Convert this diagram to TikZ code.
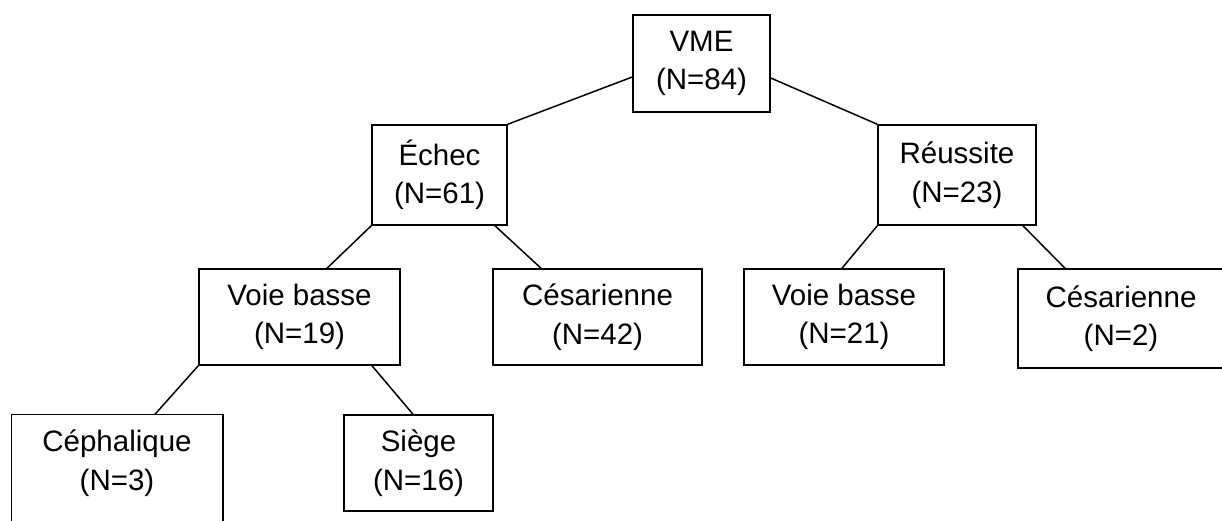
\documentclass[tikz,border=0pt]{standalone}
\usepackage{fontspec}
\setmainfont{Liberation Sans}
\begin{document}
\begin{tikzpicture}[x=1pt,y=-1pt,
  box/.style={draw=black, line width=1.5pt, align=center, inner sep=0pt,
    font=\fontsize{29.5}{38.5}\selectfont},
  open/.style={box, draw=none},
  link/.style={draw=black, line width=1.5pt}]
\useasboundingbox (0,0) rectangle (1222,520);
\node[box, minimum width=137, minimum height=97] (vme) at (701.5,63.5) {VME\\(N=84)};
\node[box, minimum width=135, minimum height=100] (echec) at (439.5,175) {Échec\\(N=61)};
\node[box, minimum width=158, minimum height=100] (reussite) at (957,175) {Réussite\\(N=23)};
\node[box, minimum width=201, minimum height=96] (vb1) at (299.5,317) {Voie basse\\(N=19)};
\node[box, minimum width=209, minimum height=96] (ces1) at (597.5,317) {Césarienne\\(N=42)};
\node[box, minimum width=200, minimum height=96] (vb2) at (844,317) {Voie basse\\(N=21)};
\node[box, minimum width=206, minimum height=99] (ces2) at (1121,318.5) {Césarienne\\(N=2)};
\node[open, minimum width=210, minimum height=96] (ceph) at (117,463) {Céphalique\\(N=3)};
\draw[link] ([yshift=-40pt]ceph.south west) -- (ceph.north west) -- (ceph.north east) -- ([yshift=-40pt]ceph.south east);
\node[box, minimum width=149, minimum height=96] (siege) at (418.5,463) {Siège\\(N=16)};
\draw[link] ([yshift=-13.5pt]vme.west) -- (echec.north east);
\draw[link] ([yshift=-14.5pt]vme.east) -- (reussite.north west);
\draw[link] (echec.south west) -- ([xshift=27.5pt]vb1.north);
\draw[link] ([xshift=55.5pt]echec.south) -- ([xshift=-56.5pt]ces1.north);
\draw[link] (reussite.south west) -- ([xshift=-2pt]vb2.north);
\draw[link] ([xshift=66pt]reussite.south) -- ([xshift=-56pt]ces2.north);
\draw[link] (vb1.south west) -- ([xshift=38pt]ceph.north);
\draw[link] ([xshift=72.5pt]vb1.south) -- ([xshift=-5.5pt]siege.north);
\end{tikzpicture}
\end{document}
